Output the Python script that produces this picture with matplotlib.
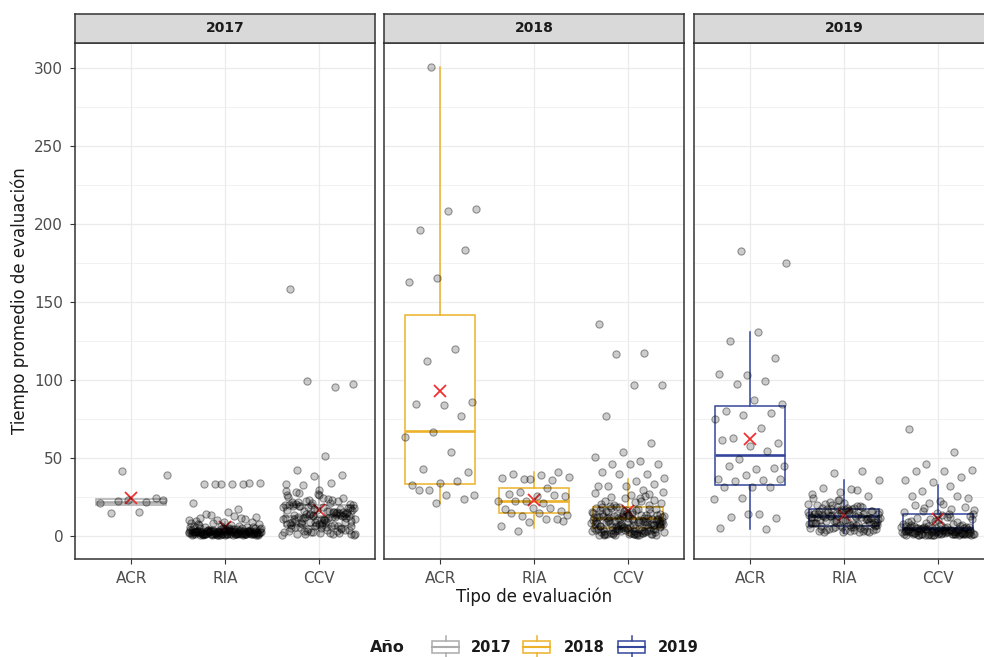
import numpy as np
import matplotlib
matplotlib.use('Agg')
import matplotlib.pyplot as plt
from matplotlib.patches import Rectangle
from matplotlib.lines import Line2D
from matplotlib.ticker import MultipleLocator

# ---------------- data ----------------
years = ['2017', '2018', '2019']
categories = ['ACR', 'RIA', 'CCV']
year_colors = ['#ABABAB', '#ECB22A', '#34479C']

acr_2017 = [41.6, 39.0, 15.4, 14.5, 24.0, 22.5, 21.0, 21.8, 22.3, 23.0]

ria_2017 = [33.3, 33.0, 33.5, 32.8, 33.2, 33.4, 33.1,
            21.0, 17.0, 13.5, 12.0, 15.0, 11.0, 10.5, 9.8, 10.0, 12.5, 14.0, 9.0, 8.5, 9.5, 11.5, 8.0,
            1.2, 0.8, 2.5, 3.1, 1.7, 0.5, 4.2, 2.2, 1.0, 3.8, 2.9, 0.7, 1.5, 5.1, 2.0, 0.9, 3.3, 1.3, 6.2, 2.7,
            0.6, 1.8, 4.6, 2.4, 1.1, 0.4, 3.6, 2.1, 1.6, 5.5, 0.8, 2.8, 1.4, 3.0, 7.1, 1.9, 0.5, 2.3, 4.0, 1.2,
            0.9, 3.4, 2.6, 1.0, 6.8, 1.7, 0.6, 2.2, 3.9, 1.3, 0.7, 4.8, 2.0, 1.5, 3.2, 0.5, 2.9, 1.1, 5.8, 2.4,
            1.8, 0.8, 3.5, 1.4, 2.1, 7.5, 0.6, 1.6, 4.3, 2.7, 1.0, 3.0, 0.9, 2.5, 6.0, 1.2, 1.9, 3.7, 0.4, 2.3,
            1.5, 5.3, 0.7, 2.8, 1.3, 4.1, 2.0, 0.8, 3.3, 1.7, 6.5, 1.1, 2.6, 0.5, 3.8, 1.4, 2.2, 4.9, 0.9, 1.8,
            3.1, 1.0, 2.4, 0.6, 5.6, 1.6, 2.9, 1.2, 3.6, 0.7, 2.1, 4.4, 1.5, 0.8, 2.7, 7.8, 1.3, 3.4, 1.9, 0.5,
            2.3, 5.0, 1.1, 2.0, 3.9, 0.9, 1.7, 6.3, 2.5, 1.4, 3.2, 0.6, 2.8, 4.7, 1.0, 2.2, 1.6]

ccv_2017 = [157.9, 95.5, 99.4, 97.0, 51.0, 42.3, 39.0, 38.0, 33.0, 33.5, 32.5,
            12.4, 5.1, 18.7, 22.3, 8.9, 1.2, 15.6, 27.4, 3.8, 10.2, 19.9, 6.7, 13.8, 0.8, 24.1, 9.5, 16.9, 2.4, 11.3, 20.8,
            7.2, 14.5, 29.1, 4.6, 12.9, 18.1, 0.5, 9.0, 21.7, 15.1, 6.1, 25.8, 11.8, 3.1, 17.4, 8.3, 13.2, 1.9, 19.3, 10.7,
            23.5, 5.7, 14.0, 26.6, 7.8, 12.1, 2.9, 16.3, 9.9, 20.2, 4.2, 13.5, 28.3, 6.4, 11.0, 17.8, 1.5, 8.6, 15.4, 22.9,
            10.4, 3.4, 19.0, 12.6, 7.0, 24.7, 14.8, 0.9, 9.3, 18.4, 5.4, 13.0, 21.1, 2.1, 16.0, 8.1, 11.5, 26.0, 6.9, 14.2,
            4.0, 19.6, 10.0, 1.0, 12.3, 17.1, 7.5, 23.0, 15.8, 3.6, 9.7, 20.5, 5.9, 13.7, 0.6, 11.2, 18.9, 8.8, 16.6, 2.6,
            14.9, 22.0, 6.2, 10.9, 27.8, 4.8, 12.8, 19.4, 1.7, 9.2, 15.2, 7.3, 21.5, 3.0, 13.4, 17.5, 5.2, 11.6, 24.4, 8.4,
            16.2, 0.7, 12.0, 20.0, 6.6, 10.6, 14.3, 2.3, 18.2]

acr_2018 = [300.7, 209.8, 208.3, 196.0, 183.5, 165.4, 162.8, 119.9, 112.2, 85.5, 83.5, 84.6, 76.7,
            66.7, 63.4, 53.7, 42.7, 40.5, 33.8, 32.6, 34.7, 29.5, 25.9, 26.1, 29.2, 23.7, 21.1]

ria_2018 = [35.5, 36.3, 37.6, 38.9, 39.7, 40.6, 36.3, 37.0, 30.3, 27.8, 25.2, 25.2, 26.7, 25.9, 22.0, 22.0,
            21.0, 22.0, 15.6, 17.7, 17.1, 17.7, 12.4, 13.5, 14.5, 14.5, 10.7, 8.5, 6.0, 10.3, 2.8, 9.2]

ccv_2018 = [135.9, 117.0, 116.4, 96.5, 96.5, 76.7, 59.2, 53.7, 50.5, 47.8, 45.8, 45.8, 45.8, 40.5, 39.3, 39.3,
            37.2, 34.9, 31.7, 33.2, 31.7, 31.7, 29.2,
            3.2, 8.7, 14.1, 1.0, 19.5, 6.3, 11.8, 0.4, 24.6, 9.2, 4.4, 16.7, 2.1, 12.9, 7.6, 21.3, 0.8, 10.5, 5.5, 17.9,
            13.4, 1.6, 8.1, 26.2, 3.9, 11.1, 6.9, 15.3, 0.6, 9.8, 22.7, 4.8, 12.2, 2.7, 18.6, 7.2, 10.0, 1.3, 14.7, 5.1,
            27.5, 8.4, 3.5, 13.0, 0.9, 20.1, 6.5, 11.5, 2.4, 16.1, 9.5, 4.1, 23.8, 7.9, 1.8, 12.6, 5.8, 10.8, 0.5, 17.3,
            3.0, 14.4, 8.9, 19.0, 2.0, 11.3, 6.1, 25.1, 4.6, 9.1, 1.1, 15.8, 7.4, 12.0, 3.7, 21.9, 0.7, 10.3, 5.3, 13.8,
            2.9, 18.2, 8.2, 1.5, 11.7, 6.7, 16.4, 4.3, 9.6, 0.3, 14.0, 7.0, 22.2, 3.3, 12.4, 5.0, 10.1, 1.9, 17.0, 8.6,
            2.2, 13.2, 6.0, 28.0, 4.9, 11.0, 0.8, 15.5, 9.3, 3.6, 19.8, 7.7, 1.4, 12.7, 5.6, 10.6, 2.6, 16.9, 8.0, 4.0,
            14.6, 0.6, 11.4, 6.4, 20.6, 3.1, 9.0, 1.2, 13.6, 7.1, 24.0, 5.2, 10.9, 2.3, 18.0, 8.5, 4.5, 12.3, 0.9, 15.0,
            6.8, 3.8, 11.9, 1.7, 9.4, 5.9, 14.9, 2.8, 26.8, 7.5, 10.2, 4.2, 17.6, 0.5, 13.1, 6.2, 8.8, 3.4, 12.1, 1.0]

acr_2019 = [182.9, 174.9, 130.3, 124.8, 113.8, 103.2, 103.8, 99.4, 97.2, 84.6, 86.9, 79.6, 78.5, 77.4, 74.5,
            69.2, 62.3, 59.7, 57.5, 61.5, 54.2, 49.3, 44.9, 42.4, 44.9, 43.1, 38.7, 36.5, 35.8, 34.7, 36.1,
            31.0, 31.0, 31.4, 24.4, 23.7, 14.0, 11.8, 11.1, 14.0, 4.9, 4.1]

ria_2019 = [41.2, 40.2, 35.5, 29.9, 30.6, 25.6, 28.2, 26.8, 29.0,
            12.5, 6.3, 17.8, 3.1, 14.2, 9.0, 20.4, 5.2, 11.6, 15.9, 2.4, 8.1, 18.9, 13.3, 7.0, 16.5, 4.0, 10.4, 22.8, 12.0,
            6.8, 15.1, 3.6, 9.7, 19.6, 13.8, 5.6, 11.1, 17.2, 2.0, 8.6, 14.7, 24.3, 7.5, 12.8, 4.5, 16.0, 10.0, 6.0, 18.3,
            13.0, 3.3, 9.3, 15.5, 21.2, 7.8, 11.9, 5.0, 14.0, 2.7, 17.5, 10.8, 6.5, 12.2, 19.0, 4.2, 8.4, 16.3, 13.6, 3.0,
            9.9, 15.3, 7.2, 20.0, 11.4, 5.4, 13.9, 2.2, 17.0, 8.9, 14.5, 6.2, 10.6, 23.1, 4.8, 12.6, 16.8, 7.6, 3.8, 11.7,
            18.5, 9.5, 14.9, 5.8, 12.4, 2.5, 16.1, 8.0, 13.1, 21.8, 6.6, 10.2, 15.7, 4.4, 12.9, 7.3, 17.4, 3.5, 11.2, 9.1,
            14.4, 5.1, 19.4, 10.9, 6.9, 13.5, 2.9, 16.6, 8.2, 12.1]

ccv_2019 = [68.6, 53.6, 46.2, 42.3, 41.2, 41.6, 37.6, 34.2, 35.5, 32.0, 28.4, 24.2, 22.0, 25.6, 25.6, 21.0,
            1.2, 3.5, 0.6, 5.0, 2.3, 8.4, 0.9, 4.1, 12.6, 1.7, 6.2, 0.4, 2.9, 15.3, 3.8, 1.0, 5.6, 9.7, 2.0, 0.7,
            4.5, 13.8, 1.4, 3.1, 7.0, 0.5, 2.6, 17.2, 4.8, 1.1, 6.6, 0.8, 3.3, 10.9, 2.1, 5.3, 0.3, 1.8, 14.5, 4.0,
            2.4, 8.0, 0.6, 3.6, 19.5, 1.3, 5.1, 2.8, 11.7, 0.9, 4.3, 1.6, 6.9, 3.0, 0.5, 16.4, 2.2, 4.7, 1.0, 9.2,
            3.4, 0.7, 5.8, 2.5, 13.1, 1.5, 4.2, 0.4, 7.6, 2.0, 3.9, 18.1, 1.2, 5.5, 0.8, 3.2, 10.3, 2.7, 4.9, 1.9,
            0.6, 6.3, 3.7, 15.9, 1.4, 4.4, 2.3, 8.8, 0.9, 5.2, 12.2, 3.0, 1.1, 4.6, 2.6, 7.3, 0.5, 3.5, 20.3, 1.7,
            5.9, 2.1, 0.7, 14.0, 4.1, 1.3, 3.1, 9.5, 2.4, 6.0, 0.8, 4.8, 11.3, 1.6, 3.8, 0.4, 2.9, 17.7, 5.4, 1.0]

points = {
    '2017': [acr_2017, ria_2017, ccv_2017],
    '2018': [acr_2018, ria_2018, ccv_2018],
    '2019': [acr_2019, ria_2019, ccv_2019],
}

# box statistics (ACR, RIA, CCV) per year
box_q1 = {'2017': [19.7, 1.5, 6.4], '2018': [33.2, 14.5, 4.9], '2019': [32.6, 6.0, 3.4]}
box_med = {'2017': [21.8, 2.5, 12.4], '2018': [66.8, 22.0, 11.3], '2019': [51.5, 12.4, 5.0]}
box_q3 = {'2017': [23.3, 4.5, 19.5], '2018': [141.3, 30.6, 18.4], '2019': [82.9, 17.1, 14.0]}
box_lo = {'2017': [19.7, 0.3, 0.3], '2018': [21.1, 4.9, 0.3], '2019': [4.1, 1.9, 0.3]}
box_hi = {'2017': [23.3, 9.0, 38.5], '2018': [300.7, 40.6, 36.3], '2019': [130.3, 35.5, 32.7]}
means = {'2017': [24.3, 5.5, 16.2], '2018': [92.8, 23.0, 15.6], '2019': [61.9, 13.5, 10.3]}

y_ticks = [0, 50, 100, 150, 200, 250, 300]

# ---------------- layout ----------------
W, H = 984, 657
fig = plt.figure(figsize=(W / 100, H / 100), dpi=100)
fig.patch.set_facecolor('white')


def px_axes(x0, y0, x1, y1, **kw):
    return fig.add_axes([x0 / W, 1 - y1 / H, (x1 - x0) / W, (y1 - y0) / H], **kw)


panel_x = [(75, 375), (384, 684), (694, 994)]
panel_top, panel_bot = 43, 559
strip_top = 14
border = '#333333'
grid_c = '#EBEBEB'
tick_c = '#4D4D4D'

for k, yr in enumerate(years):
    x0, x1 = panel_x[k]
    ax = px_axes(x0, panel_top, x1, panel_bot)
    ax.set_xlim(0.4, 3.6)
    ax.set_ylim(-15.05, 316.05)
    ax.set_facecolor('white')
    ax.yaxis.set_major_locator(MultipleLocator(50))
    ax.yaxis.set_minor_locator(MultipleLocator(25))
    ax.set_yticks(y_ticks)
    ax.grid(True, which='major', color=grid_c, lw=0.9, zorder=0)
    ax.grid(True, which='minor', axis='y', color=grid_c, lw=0.5, zorder=0)
    ax.set_axisbelow(True)

    col = year_colors[k]
    stats = []
    for j, cat in enumerate(categories):
        stats.append(dict(label=cat, q1=box_q1[yr][j], med=box_med[yr][j], q3=box_q3[yr][j],
                          whislo=box_lo[yr][j], whishi=box_hi[yr][j], mean=means[yr][j]))
    ax.bxp(stats, positions=[1, 2, 3], widths=0.75, showcaps=False, showfliers=False,
           showmeans=False, patch_artist=True,
           boxprops=dict(facecolor='white', edgecolor=col, linewidth=1.1),
           whiskerprops=dict(color=col, linewidth=1.1),
           medianprops=dict(color=col, linewidth=1.9),
           zorder=2)
    ax.set_xlim(0.4, 3.6)
    ax.set_xticks([1, 2, 3])
    ax.set_xticklabels(categories)
    ax.tick_params(axis='x', length=3.5, width=0.8, color=border, pad=5,
                   labelsize=11, labelcolor=tick_c)
    ax.tick_params(axis='y', which='minor', length=0)
    if k == 0:
        ax.tick_params(axis='y', which='major', length=3.5, width=0.8, color=border,
                       pad=5, labelsize=11, labelcolor=tick_c)
    else:
        ax.tick_params(axis='y', which='major', length=0, labelleft=False)
    for sp in ax.spines.values():
        sp.set_color(border)
        sp.set_linewidth(1.1)

    # mean markers
    ax.plot([1, 2, 3], means[yr], linestyle='none', marker='x', markersize=8,
            mew=1.3, color='#F03030', zorder=2.5)

    # jittered points
    for j, vals in enumerate(points[yr]):
        n = len(vals)
        idx = np.arange(n)
        off = ((idx * 0.6180339887 + 0.37 * (j + 1)) % 1.0 - 0.5) * 0.78
        ax.scatter((j + 1) + off, vals, s=27, facecolors=(0, 0, 0, 0.2),
                   edgecolors=(0, 0, 0, 0.38), linewidths=0.8, zorder=3)

    # strip
    sax = px_axes(x0, strip_top, x1, panel_top)
    sax.set_facecolor('#D9D9D9')
    sax.set_xticks([])
    sax.set_yticks([])
    for sp in sax.spines.values():
        sp.set_color(border)
        sp.set_linewidth(1.1)
    sax.text(0.5, 0.5, yr, transform=sax.transAxes, ha='center', va='center',
             fontsize=10, fontweight='bold', color='#1A1A1A')

# axis titles
fig.text(20 / W, 1 - 301 / H, 'Tiempo promedio de evaluación', rotation=90,
         ha='center', va='center', fontsize=12, color='#1A1A1A')
fig.text(534 / W, 1 - 597 / H, 'Tipo de evaluación', ha='center', va='center',
         fontsize=12, color='#1A1A1A')

# legend (drawn in pixel coordinates)
lax = fig.add_axes([0, 0, 1, 1], zorder=5)
lax.set_xlim(0, W)
lax.set_ylim(H, 0)
lax.axis('off')
lax.patch.set_alpha(0)
lax.text(370, 648, 'Año', ha='left', va='center', fontsize=11.5, fontweight='bold', color='#1A1A1A')
key_x = [432, 523, 618]
lab_x = [471, 564, 658]
for k, yr in enumerate(years):
    col = year_colors[k]
    kx = key_x[k]
    lax.add_patch(Rectangle((kx, 641), 27, 12, facecolor='white', edgecolor=col, lw=1.1))
    lax.add_line(Line2D([kx, kx + 27], [647, 647], color=col, lw=1.5))
    lax.add_line(Line2D([kx + 13.5, kx + 13.5], [636, 641], color=col, lw=1.1))
    lax.add_line(Line2D([kx + 13.5, kx + 13.5], [653, 658], color=col, lw=1.1))
    lax.text(lab_x[k], 648, yr, ha='left', va='center', fontsize=10.5, fontweight='bold',
             color='#1A1A1A')

fig.savefig('out.png', dpi=100, facecolor='white')
